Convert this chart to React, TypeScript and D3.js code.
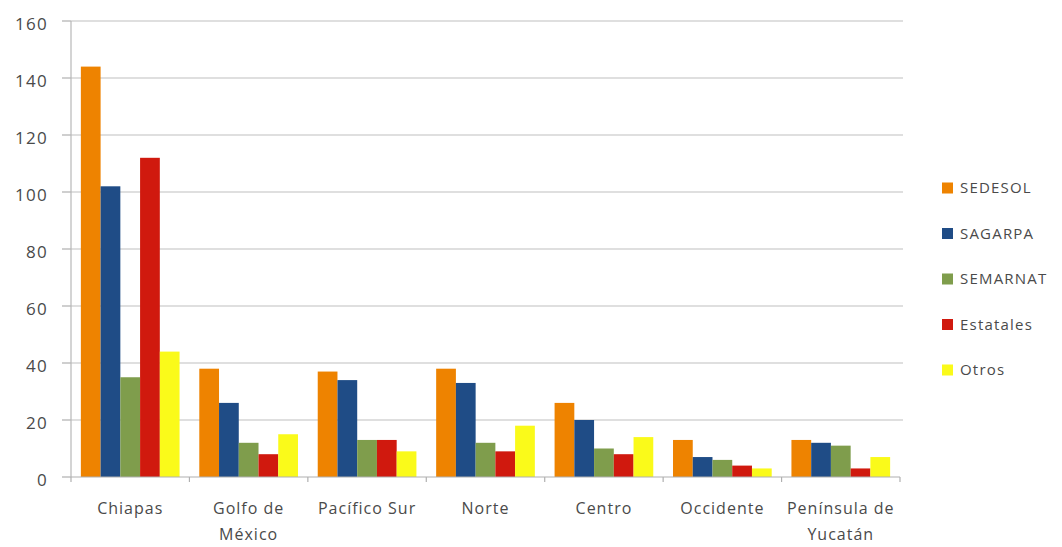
import React from "react";
import * as d3 from "d3";

const categories = ["Chiapas", "Golfo de México", "Pacífico Sur", "Norte", "Centro", "Occidente", "Península de Yucatán"];
const categoryLines = [["Chiapas"], ["Golfo de", "México"], ["Pacífico Sur"], ["Norte"], ["Centro"], ["Occidente"], ["Península de", "Yucatán"]];
const seriesNames = ["SEDESOL", "SAGARPA", "SEMARNAT", "Estatales", "Otros"];
const sedesol = [144, 38, 37, 38, 26, 13, 13];
const sagarpa = [102, 26, 34, 33, 20, 7, 12];
const semarnat = [35, 12, 13, 12, 10, 6, 11];
const estatales = [112, 8, 13, 9, 8, 4, 3];
const otros = [44, 15, 9, 18, 14, 3, 7];
const yTicks = [0, 20, 40, 60, 80, 100, 120, 140, 160];
const colors = ["#EE8300", "#1F4C86", "#7F9D4C", "#D0190E", "#FAFA1A"];

const seriesValues = [sedesol, sagarpa, semarnat, estatales, otros];

const W = 1062, H = 547;
const left = 71, right = 900, top = 21, bottom = 477;
const font = "'Open Sans', sans-serif";
const textColor = "#4a4a4a";

export default function App() {
  const x0 = d3.scaleBand<string>().domain(categories).range([left, right]).paddingInner(0).paddingOuter(0);
  const x1 = d3.scaleBand<string>().domain(seriesNames).range([0, x0.bandwidth()]).paddingInner(0).paddingOuter(0.5);
  const y = d3.scaleLinear().domain([0, 160]).range([bottom, top]);

  return (
    <svg width={W} height={H} style={{ position: "absolute", left: 0, top: 0, background: "#fff" }}>
      <rect x={0} y={0} width={W} height={H} fill="#fff" />
      {yTicks.filter(t => t > 0).map(t => (
        <line key={"g" + t} x1={left} x2={right + 3} y1={y(t)} y2={y(t)} stroke="#d4d4d4" strokeWidth={1.6} />
      ))}
      {yTicks.map(t => (
        <line key={"t" + t} x1={left - 9} x2={left} y1={y(t)} y2={y(t)} stroke="#b0b0b0" strokeWidth={1.2} />
      ))}
      {yTicks.map(t => (
        <text key={"l" + t} x={48} y={y(t) + 3} dy="0.35em" textAnchor="end" fontFamily={font} fontSize={17} fill={textColor} letterSpacing={1.3}>{t}</text>
      ))}
      <line x1={left} x2={left} y1={top} y2={bottom} stroke="#b8b8b8" strokeWidth={1.2} />
      {categories.map((c, i) => (
        <g key={c}>
          {seriesNames.map((s, j) => (
            <rect key={s} x={(x0(c) as number) + (x1(s) as number)} y={y(seriesValues[j][i])} width={x1.bandwidth()} height={bottom - y(seriesValues[j][i])} fill={colors[j]} />
          ))}
        </g>
      ))}
      <line x1={left} x2={right} y1={bottom} y2={bottom} stroke="#b0b0b0" strokeWidth={1.2} />
      {categories.concat(["_end"]).map((c, i) => {
        const xv = left + i * x0.step();
        return <line key={"xt" + i} x1={xv} x2={xv} y1={bottom} y2={bottom + 5} stroke="#b0b0b0" strokeWidth={1.2} />;
      })}
      {categories.map((c, i) => (
        <text key={"xl" + c} x={(x0(c) as number) + x0.bandwidth() / 2} y={508} textAnchor="middle" fontFamily={font} fontSize={16} fill={textColor} letterSpacing={1}>
          {categoryLines[i].map((ln, k) => (
            <tspan key={k} x={(x0(c) as number) + x0.bandwidth() / 2} dy={k === 0 ? "0.35em" : 26}>{ln}</tspan>
          ))}
        </text>
      ))}
      {seriesNames.map((s, j) => (
        <g key={"lg" + s} transform={`translate(942, ${188 + j * 45.5})`}>
          <rect x={0} y={-5.5} width={11} height={11} fill={colors[j]} />
          <text x={18} y={0} dy="0.35em" fontFamily={font} fontSize={15} fill={textColor} letterSpacing={1.2}>{s}</text>
        </g>
      ))}
    </svg>
  );
}
